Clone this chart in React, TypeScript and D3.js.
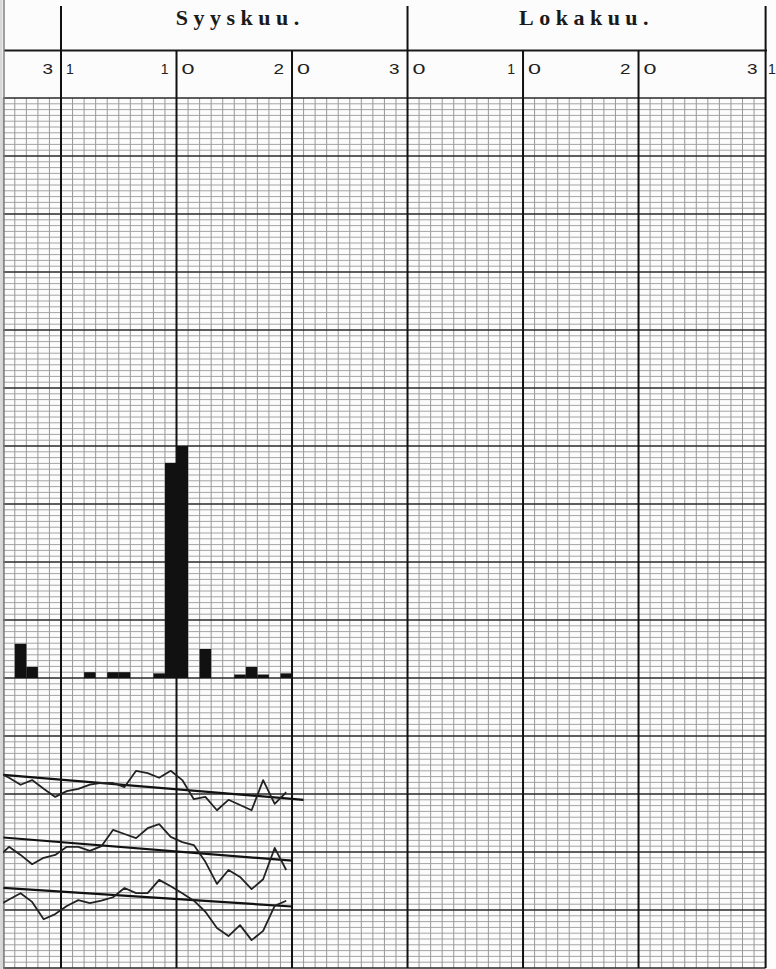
import React from 'react';
import * as d3 from 'd3';

const W = 776;
const H = 969;

// day-line index: 0 = 31 Aug, 30 = 30 Sep, 61 = 31 Oct
const monthNames = ['Syyskuu.', 'Lokakuu.'];
const monthStart = [0, 30];
const monthEnd = [30, 61];
const dayTickIndex = [0, 10, 20, 30, 40, 50, 61];
const dayTickLabels = ['31', '10', '20', '30', '10', '20', '31'];

// precipitation bars (column i lies between day lines i and i+1), mm
const precipColumns = [-4, -3, 2, 4, 5, 8, 9, 10, 12, 15, 16, 17, 19];
const precipValues = [5.9, 1.9, 1.0, 1.0, 1.0, 0.8, 37.1, 40.0, 5.0, 0.6, 1.9, 0.6, 0.8];

// three daily curves (values in grid units), one point per column centre
const curveColumns = [-6, -5, -4, -3, -2, -1, 0, 1, 2, 3, 4, 5, 6, 7, 8, 9, 10, 11, 12, 13, 14, 15, 16, 17, 18, 19];
const curveA = [33.8, 32.8, 31.6, 32.4, 30.9, 29.5, 30.5, 30.9, 31.6, 31.9, 31.9, 31.2, 34.0, 33.6, 32.8, 34.0, 32.4, 29.1, 29.5, 27.2, 29.0, 28.1, 27.2, 32.4, 28.3, 30.3];
const curveB = [19.0, 20.9, 19.5, 17.9, 19.0, 19.5, 20.9, 20.9, 20.2, 21.0, 23.8, 23.1, 22.4, 24.1, 24.8, 22.6, 21.7, 21.2, 18.3, 14.5, 16.9, 15.7, 13.6, 15.3, 20.7, 16.9];
const curveC = [10.7, 11.8, 12.9, 11.4, 8.4, 9.3, 10.7, 11.7, 11.2, 11.6, 12.2, 13.8, 12.9, 12.9, 15.2, 14.1, 12.9, 11.6, 9.7, 6.9, 5.5, 7.4, 4.8, 6.4, 10.7, 11.6];

// straight normal lines: [start day line, end day line] and values
const trendStart = [-5, -5, -5];
const trendEnd = [21, 20, 20];
const trendStartValues = [33.3, 22.5, 13.8];
const trendEndValues = [29.0, 18.5, 10.6];

export default function App() {
  const x = d3.scaleLinear().domain([0, 61]).range([61, 765.6]);
  const yPrecip = d3.scaleLinear().domain([0, 100]).range([678, 98]);
  const yLow = d3.scaleLinear().domain([0, 50]).range([968, 678]);
  const yGrid = d3.scaleLinear().domain([0, 150]).range([98, 968]);

  const gridLeft = x(-5);
  const gridRight = x(61);
  const dayW = x(1) - x(0);

  const vDays = d3.range(-5, 62);
  const hLines = d3.range(0, 151);

  const curves = [curveA, curveB, curveC];
  const line = d3
    .line<number>()
    .x((_, i) => x(curveColumns[i] + 0.5))
    .y((v) => yLow(v));

  const thickDays = [0, 10, 20, 30, 40, 50, 61];
  const monthSep = [0, 30, 61];

  const digitWidth = (c: string) => (c === '1' ? undefined : c === '0' ? 13 : 10.5);

  return (
    <svg
      width={W}
      height={H}
      viewBox={`0 0 ${W} ${H}`}
      style={{ position: 'absolute', left: 0, top: 0, background: '#fcfcfc' }}
    >
      <defs>
        <clipPath id="plot">
          <rect x={gridLeft} y={98} width={gridRight - gridLeft} height={H - 98} />
        </clipPath>
      </defs>
      <rect x={0} y={0} width={W} height={H} fill="#fcfcfc" />
      <rect x={0} y={0} width={2.5} height={H} fill="#d8d8d8" />

      {/* minor vertical grid */}
      {vDays.map((d) => (
        <line
          key={'v' + d}
          x1={x(d)}
          x2={x(d)}
          y1={98}
          y2={968}
          stroke="#8c8c8c"
          strokeWidth={0.9}
        />
      ))}
      {/* horizontal grid */}
      {hLines.map((i) => (
        <line
          key={'h' + i}
          x1={gridLeft}
          x2={gridRight}
          y1={yGrid(i)}
          y2={yGrid(i)}
          stroke={i % 10 === 0 ? '#2a2a2a' : '#9a9a9a'}
          strokeWidth={i % 10 === 0 ? 1.4 : 0.9}
        />
      ))}

      {/* header lines */}
      <line x1={4} x2={767} y1={50.5} y2={50.5} stroke="#1a1a1a" strokeWidth={2} />
      <line x1={4} x2={4} y1={0} y2={H} stroke="#777" strokeWidth={1.4} />
      {thickDays.map((d) => (
        <line
          key={'t' + d}
          x1={x(d)}
          x2={x(d)}
          y1={monthSep.includes(d) ? 6 : 50.5}
          y2={968}
          stroke="#111"
          strokeWidth={2}
        />
      ))}

      {/* month names */}
      {monthNames.map((m, i) => (
        <text
          key={m}
          x={(x(monthStart[i]) + x(monthEnd[i])) / 2 + (i === 0 ? 6 : 0)}
          y={25}
          textAnchor="middle"
          fontFamily="'Liberation Serif', serif"
          fontWeight="bold"
          fontSize={22}
          letterSpacing={5.5}
          fill="#1a1a1a"
        >
          {m}
        </text>
      ))}

      {/* day labels straddling the lines */}
      {dayTickIndex.map((d, i) => {
        const [a, b] = dayTickLabels[i].split('');
        const lx = x(d);
        const wa = digitWidth(a);
        const wb = digitWidth(b);
        return (
          <g key={'l' + i} fontFamily="'Liberation Sans', sans-serif" fontSize={14} fill="#222">
            <text
              x={lx - 8}
              y={74}
              textAnchor="end"
              textLength={wa}
              lengthAdjust={wa ? 'spacingAndGlyphs' : undefined}
            >
              {a}
            </text>
            <text
              x={Math.min(lx + 5, W - 8)}
              y={74}
              textAnchor="start"
              textLength={wb}
              lengthAdjust={wb ? 'spacingAndGlyphs' : undefined}
            >
              {b}
            </text>
          </g>
        );
      })}

      <g clipPath="url(#plot)">
        {/* precipitation bars */}
        {precipColumns.map((c, i) => (
          <rect
            key={'b' + i}
            x={x(c)}
            y={yPrecip(precipValues[i])}
            width={dayW}
            height={yPrecip(0) - yPrecip(precipValues[i])}
            fill="#111"
          />
        ))}

        {/* normal lines */}
        {trendStart.map((s, i) => (
          <line
            key={'n' + i}
            x1={x(s)}
            x2={x(trendEnd[i])}
            y1={yLow(trendStartValues[i])}
            y2={yLow(trendEndValues[i])}
            stroke="#111"
            strokeWidth={2.2}
          />
        ))}

        {/* daily curves */}
        {curves.map((c, i) => (
          <path
            key={'c' + i}
            d={line(c) || ''}
            fill="none"
            stroke="#222"
            strokeWidth={1.8}
            strokeLinejoin="round"
          />
        ))}
      </g>
    </svg>
  );
}
